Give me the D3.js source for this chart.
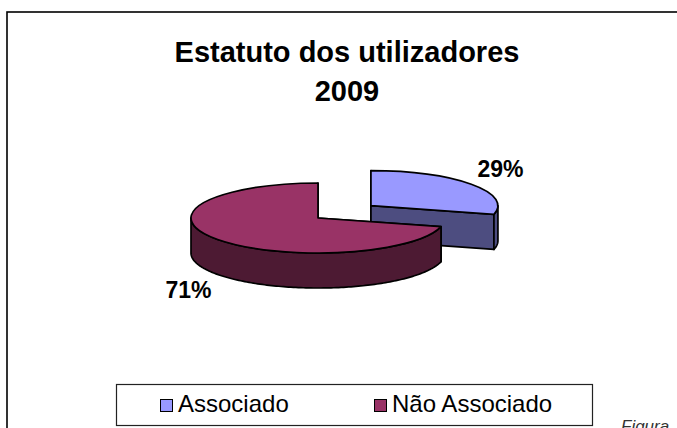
<!DOCTYPE html>
<html>
<head>
<meta charset="utf-8">
<script src="https://cdn.jsdelivr.net/npm/d3@7/dist/d3.min.js"></script>
<style>
  html, body { margin: 0; padding: 0; background: #fff; }
  svg { display: block; }
  text { font-family: "Liberation Sans", Arial, sans-serif; }
</style>
</head>
<body>
<svg id="chart" width="677" height="428"></svg>
<script>
// ---- data ----
const titleLines = ["Estatuto dos utilizadores", "2009"];
const categories = ["Associado", "Não Associado"];
const values = [29, 71];
const labels = ["29%", "71%"];
const exploded = [true, false];
const topColors = ["#9999FF", "#993366"];
const sideColors = ["#4D4D80", "#4D1A33"];

// ---- layout ----
const svg = d3.select("#chart");
const cx = 318, cy = 218, rx = 127, ry = 35, depth = 35;
const explodeDist = 67, explodeTilt = 0.3;

// outer frame (clipped by the window on right/bottom)
svg.append("rect")
  .attr("x", 7).attr("y", 12)
  .attr("width", 720).attr("height", 460)
  .attr("fill", "none").attr("stroke", "#000").attr("stroke-width", 1.6);

// title
svg.append("text")
  .attr("x", 347).attr("y", 62)
  .attr("text-anchor", "middle")
  .attr("font-size", 29).attr("font-weight", "bold")
  .text(titleLines[0]);
svg.append("text")
  .attr("x", 347).attr("y", 101)
  .attr("text-anchor", "middle")
  .attr("font-size", 29).attr("font-weight", "bold")
  .text(titleLines[1]);

// ---- pie ----
const pie = d3.pie().sort(null).value(d => d);
const arcs = pie(values).map((a, i) => {
  const mid = (a.startAngle + a.endAngle) / 2;
  const off = exploded[i] ? explodeDist : 0;
  return Object.assign(a, {
    i, mid,
    ox: cx + off * Math.sin(mid),
    oy: cy - off * Math.cos(mid) * explodeTilt
  });
});

const line = d3.line().x(d => d[0]).y(d => d[1]);
function pt(x0, y0, a, dz) {
  return [x0 + rx * Math.sin(a), y0 - ry * Math.cos(a) + (dz || 0)];
}
function ellArc(x0, y0, a0, a1, dz) {
  const n = Math.max(2, Math.ceil(Math.abs(a1 - a0) / 0.02));
  return d3.range(n + 1).map(k => pt(x0, y0, a0 + (a1 - a0) * k / n, dz));
}
const topArc = d3.arc().innerRadius(0).outerRadius(rx);

// draw back-to-front: smaller center y first
const order = arcs.slice().sort((a, b) => a.oy - b.oy);
const g = svg.append("g");
order.forEach(a => {
  const sg = g.append("g");
  // cut faces
  [a.startAngle, a.endAngle].forEach(ang => {
    const e = pt(a.ox, a.oy, ang);
    const poly = [[a.ox, a.oy], e, [e[0], e[1] + depth], [a.ox, a.oy + depth]];
    sg.append("path")
      .attr("d", line(poly) + "Z")
      .attr("fill", sideColors[a.i])
      .attr("stroke", "#000").attr("stroke-width", 1.7)
      .attr("stroke-linejoin", "round");
  });
  // outer rim, visible part (front half: PI/2 .. 3PI/2)
  const v0 = Math.max(a.startAngle, Math.PI / 2);
  const v1 = Math.min(a.endAngle, 3 * Math.PI / 2);
  if (v1 > v0) {
    const topPts = ellArc(a.ox, a.oy, v0, v1, 0);
    const botPts = ellArc(a.ox, a.oy, v1, v0, depth);
    sg.append("path")
      .attr("d", line(topPts.concat(botPts)) + "Z")
      .attr("fill", sideColors[a.i])
      .attr("stroke", "#000").attr("stroke-width", 1.7)
      .attr("stroke-linejoin", "round");
  }
  // top face
  sg.append("path")
    .attr("d", topArc(a))
    .attr("transform", `translate(${a.ox},${a.oy}) scale(1,${ry / rx})`)
    .attr("fill", topColors[a.i])
    .attr("stroke", "#000").attr("stroke-width", 1.7)
    .attr("vector-effect", "non-scaling-stroke")
    .attr("stroke-linejoin", "round");
});

// percentage labels
const labelR = 164, labelTilt = 0.365;
arcs.forEach(a => {
  const c = Math.cos(a.mid);
  const lx = a.ox + labelR * Math.sin(a.mid);
  const ly = a.oy - labelR * c * labelTilt + (c < 0 ? depth : 0);
  svg.append("text")
    .attr("x", lx).attr("y", ly + 8.5)
    .attr("text-anchor", "middle")
    .attr("font-size", 23).attr("font-weight", "bold")
    .text(labels[a.i]);
});

// ---- legend ----
svg.append("rect")
  .attr("x", 116.5).attr("y", 384.5)
  .attr("width", 476).attr("height", 41)
  .attr("fill", "#fff").attr("stroke", "#222").attr("stroke-width", 1.2);
const legendX = [160, 374];
categories.forEach((c, i) => {
  svg.append("rect")
    .attr("x", legendX[i] + 0.5).attr("y", 399.5)
    .attr("width", 12).attr("height", 12)
    .attr("fill", topColors[i]).attr("stroke", "#000").attr("stroke-width", 1);
  svg.append("text")
    .attr("x", legendX[i] + 18).attr("y", 412)
    .attr("font-size", 24)
    .text(c);
});

// caption fragment at bottom right (cut off by the page edge, as in the source)
svg.append("text")
  .attr("x", 621).attr("y", 432)
  .attr("font-family", "'Liberation Serif', 'Times New Roman', serif")
  .attr("font-style", "italic")
  .attr("font-size", 17)
  .attr("fill", "#333")
  .text("Figura");
</script>
</body>
</html>
